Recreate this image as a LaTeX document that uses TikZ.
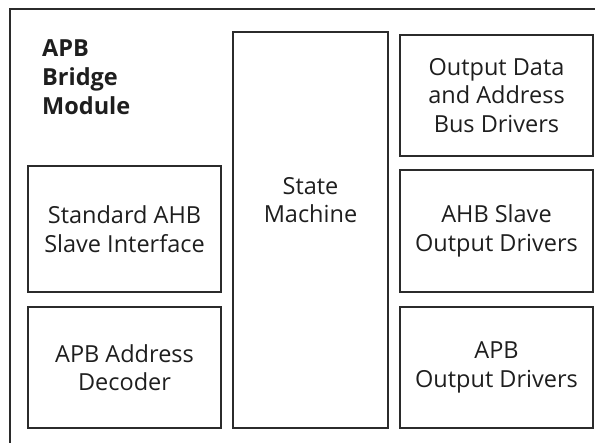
\documentclass[tikz,border=0pt]{standalone}
\usepackage{fontspec}
\setmainfont{Open Sans}
\usepackage{tikz}
\usetikzlibrary{positioning}
\definecolor{edge}{HTML}{2B2B2B}
\definecolor{ink}{HTML}{1E1E1E}
\begin{document}
\begin{tikzpicture}[x=1pt,y=-1pt,
		block/.style={rectangle,draw=edge,line width=1.8pt,inner sep=2pt,align=center,
			text=ink,font=\fontsize{23.5}{28.5}\selectfont},
		title/.style={align=left,anchor=base west,inner sep=0pt,text=ink,
			font=\fontsize{23.5}{29}\selectfont\bfseries}]
		\useasboundingbox (0,0) rectangle (595,443);
		
		\coordinate (fbl) at (10,445);
		\coordinate (ftl) at (10,9);
		\coordinate (ftr) at (597,9);
		\draw[draw=edge,line width=1.8pt] (fbl) -- (ftl) -- (ftr);
		
		\node[title]  (name)   at (42,115)   {APB\\Bridge\\Module};
		
		\node[block,minimum width=193pt,minimum height=126pt] (std) at (124.5,229) {Standard AHB\\Slave Interface};
		\node[block,minimum width=193pt,minimum height=121pt] (dec) at (124.5,367.5) {APB Address\\Decoder};
		\node[block,minimum width=155pt,minimum height=396pt] (sm)  at (310.5,230) {};
		\node[block,draw=none,anchor=base] (smtext) at (310.5,223) {State\\Machine};
		\node[block,minimum width=193pt,minimum height=121pt] (out) at (496.5,95.5) {Output Data\\and Address\\Bus Drivers};
		\node[block,minimum width=193pt,minimum height=122pt] (slv) at (496.5,231) {AHB Slave\\Output Drivers};
		\node[block,minimum width=193pt,minimum height=121pt] (apb) at (496.5,367.5) {APB\\Output Drivers};
\end{tikzpicture}
\end{document}
